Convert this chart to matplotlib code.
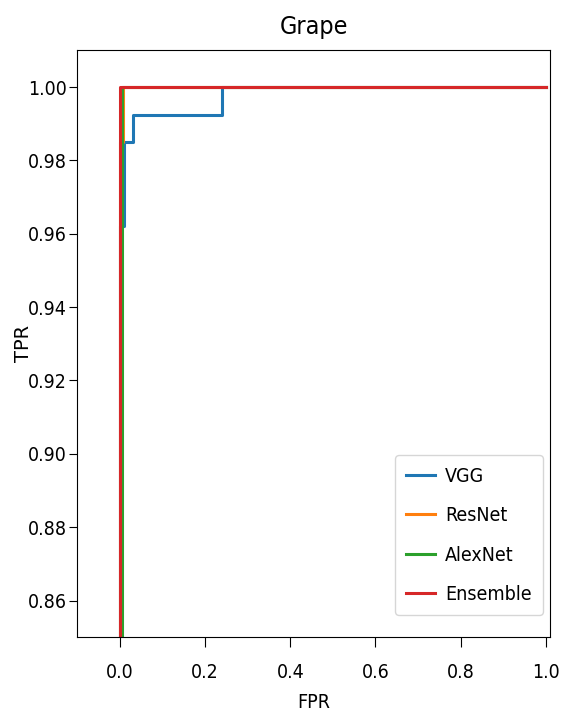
import matplotlib
matplotlib.use("Agg")
import matplotlib.pyplot as plt

plt.rcParams["font.family"] = "DejaVu Sans"
plt.rcParams["font.stretch"] = "condensed"

# ROC curves for the Grape class
vgg_fpr = [0.0, 0.0, 0.009, 0.009, 0.03, 0.03, 0.24, 0.24, 1.0]
vgg_tpr = [0.0, 0.962, 0.962, 0.985, 0.985, 0.9925, 0.9925, 1.0, 1.0]

resnet_fpr = [0.0, 0.0, 0.008, 0.008, 1.0]
resnet_tpr = [0.0, 0.985, 0.985, 1.0, 1.0]

alexnet_fpr = [0.0, 0.006, 0.006, 1.0]
alexnet_tpr = [0.0, 0.0, 1.0, 1.0]

ensemble_fpr = [0.0, 0.0, 1.0]
ensemble_tpr = [0.0, 1.0, 1.0]

fig = plt.figure(figsize=(5.73, 7.2), dpi=100)
ax = fig.add_axes([0.135, 0.115, 0.825, 0.815])

ax.plot(vgg_fpr, vgg_tpr, color="tab:blue", lw=2.2, label="VGG")
ax.plot(resnet_fpr, resnet_tpr, color="tab:orange", lw=2.2, label="ResNet")
ax.plot(alexnet_fpr, alexnet_tpr, color="tab:green", lw=2.2, label="AlexNet")
ax.plot(ensemble_fpr, ensemble_tpr, color="tab:red", lw=2.2, label="Ensemble")

ax.set_xlim(-0.1, 1.01)
ax.set_ylim(0.85, 1.01)
ax.set_title("Grape", fontsize=18, pad=12)
ax.set_xlabel("FPR", fontsize=14, labelpad=8)
ax.set_ylabel("TPR", fontsize=14, stretch="normal")
ax.yaxis.set_label_coords(-0.094, 0.5)
ax.tick_params(axis="x", labelsize=14, length=7.2, pad=11.5)
ax.tick_params(axis="y", labelsize=14, length=6, pad=1.5)

ax.legend(loc="lower right", bbox_to_anchor=(0.985, 0.0375), borderaxespad=0,
          fontsize=14, handlelength=1.5, handletextpad=0.5,
          borderpad=0.58, labelspacing=1.05)

fig.savefig("out.png")
